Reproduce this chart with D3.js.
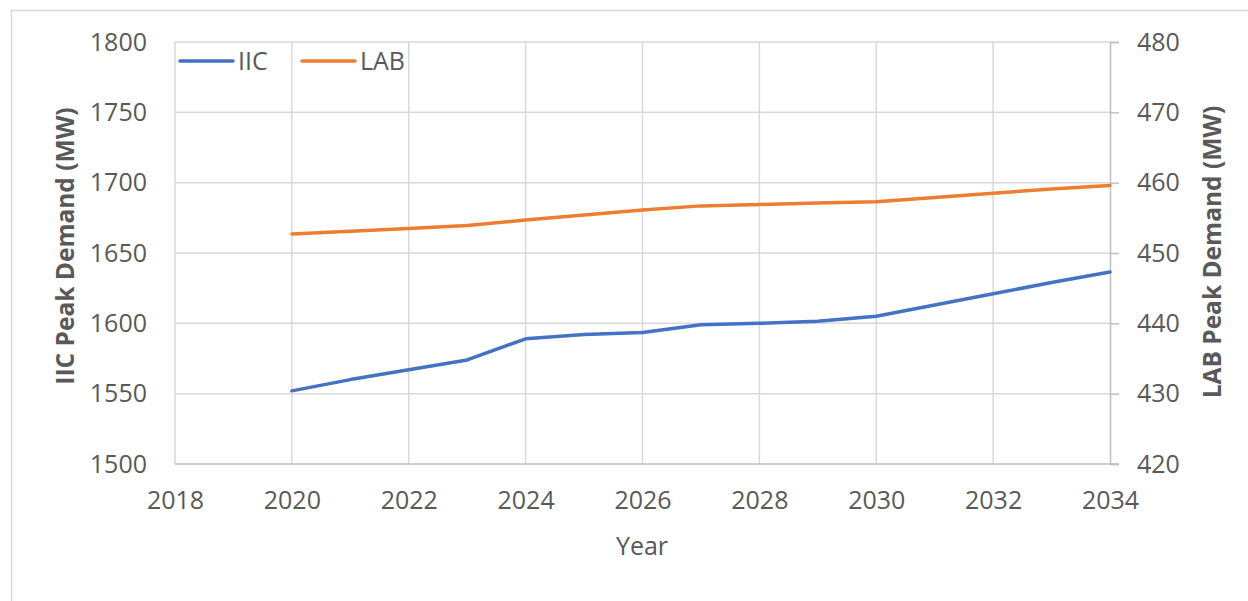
<!DOCTYPE html>
<html>
<head>
<meta charset="utf-8">
<script src="https://cdn.jsdelivr.net/npm/d3@7"></script>
<style>
  html, body { margin: 0; padding: 0; background: #fff; }
  svg { display: block; }
  text { font-family: "Open Sans", "Noto Sans", sans-serif; fill: #595959; }
</style>
</head>
<body>
<svg id="chart" width="1248" height="601"></svg>
<script>
const years = [2020, 2021, 2022, 2023, 2024, 2025, 2026, 2027, 2028, 2029, 2030, 2031, 2032, 2033, 2034];
const iicValues = [1552, 1560, 1567, 1574, 1589, 1592, 1593.5, 1599, 1600, 1601.5, 1605, 1613, 1621, 1629, 1636.5];
const labValues = [452.7, 453.1, 453.5, 453.9, 454.7, 455.4, 456.1, 456.7, 456.9, 457.1, 457.3, 457.9, 458.5, 459.1, 459.6];
const xTicks = [2018, 2020, 2022, 2024, 2026, 2028, 2030, 2032, 2034];
const leftTicks = [1500, 1550, 1600, 1650, 1700, 1750, 1800];
const rightTicks = [420, 430, 440, 450, 460, 470, 480];
const seriesNames = ["IIC", "LAB"];
const colors = ["#4472C4", "#ED7D31"];

const svg = d3.select("#chart");
const L = 175, R = 1110, T = 42, B = 464;

const x = d3.scaleLinear().domain([2018, 2034]).range([L, R]);
const yL = d3.scaleLinear().domain([1500, 1800]).range([B, T]);
const yR = d3.scaleLinear().domain([420, 480]).range([B, T]);

// chart border
svg.append("rect").attr("x", 11.5).attr("y", 10.5).attr("width", 1400).attr("height", 800)
  .attr("fill", "none").attr("stroke", "#d9d9d9").attr("stroke-width", 1.5);

// gridlines
const grid = svg.append("g");
grid.selectAll("line.h").data(leftTicks.filter(d => d !== 1500)).join("line")
  .attr("x1", L).attr("x2", R).attr("y1", d => yL(d)).attr("y2", d => yL(d))
  .attr("stroke", "#d9d9d9").attr("stroke-width", 1.5);
grid.selectAll("line.v").data(xTicks.filter(d => d !== 2034)).join("line")
  .attr("x1", d => x(d)).attr("x2", d => x(d)).attr("y1", T).attr("y2", B)
  .attr("stroke", "#d9d9d9").attr("stroke-width", 1.5);

// bottom axis line
svg.append("line").attr("x1", L).attr("x2", R + 9).attr("y1", B).attr("y2", B)
  .attr("stroke", "#bfbfbf").attr("stroke-width", 1.5);

// right axis
const rAxis = svg.append("g").attr("transform", `translate(${R},0)`)
  .call(d3.axisRight(yR).tickValues(rightTicks).tickSize(9).tickPadding(18).tickFormat(d3.format("d")));
rAxis.select(".domain").attr("stroke", "#bfbfbf").attr("stroke-width", 1.5);
rAxis.selectAll(".tick line").attr("stroke", "#bfbfbf").attr("stroke-width", 1.5);
rAxis.selectAll("text").attr("font-size", 25).attr("fill", "#595959")
  .style("font-family", "'Open Sans', sans-serif");

// left axis (labels only)
const lAxis = svg.append("g").attr("transform", `translate(${L},0)`)
  .call(d3.axisLeft(yL).tickValues(leftTicks).tickSize(0).tickPadding(28).tickFormat(d3.format("d")));
lAxis.select(".domain").remove();
lAxis.selectAll("text").attr("font-size", 25).attr("fill", "#595959")
  .style("font-family", "'Open Sans', sans-serif");

// bottom axis labels
const bAxis = svg.append("g").attr("transform", `translate(0,${B})`)
  .call(d3.axisBottom(x).tickValues(xTicks).tickSize(0).tickPadding(27).tickFormat(d3.format("d")));
bAxis.select(".domain").remove();
bAxis.selectAll("text").attr("font-size", 25).attr("fill", "#595959")
  .style("font-family", "'Open Sans', sans-serif");

// lines
const lineL = d3.line().x((d, i) => x(years[i])).y(d => yL(d));
const lineR = d3.line().x((d, i) => x(years[i])).y(d => yR(d));
svg.append("path").datum(iicValues).attr("d", lineL).attr("fill", "none")
  .attr("stroke", colors[0]).attr("stroke-width", 3.5).attr("stroke-linejoin", "round").attr("stroke-linecap", "round");
svg.append("path").datum(labValues).attr("d", lineR).attr("fill", "none")
  .attr("stroke", colors[1]).attr("stroke-width", 3.5).attr("stroke-linejoin", "round").attr("stroke-linecap", "round");

// axis titles
svg.append("text").attr("transform", `translate(74,246) rotate(-90)`)
  .attr("text-anchor", "middle").attr("font-size", 24.5).attr("font-weight", "bold")
  .text("IIC Peak Demand (MW)");
svg.append("text").attr("transform", `translate(1221,252) rotate(-90)`)
  .attr("text-anchor", "middle").attr("font-size", 24.5).attr("font-weight", "bold")
  .text("LAB Peak Demand (MW)");
svg.append("text").attr("x", 642).attr("y", 555).attr("text-anchor", "middle")
  .attr("font-size", 25).text("Year");

// legend
const legendX = [180, 302];
const lg = svg.append("g");
seriesNames.forEach((name, i) => {
  lg.append("line").attr("x1", legendX[i]).attr("x2", legendX[i] + 53).attr("y1", 61).attr("y2", 61)
    .attr("stroke", colors[i]).attr("stroke-width", 3.5).attr("stroke-linecap", "round");
  lg.append("text").attr("x", legendX[i] + 58).attr("y", 70).attr("font-size", 25).text(name);
});
</script>
</body>
</html>
